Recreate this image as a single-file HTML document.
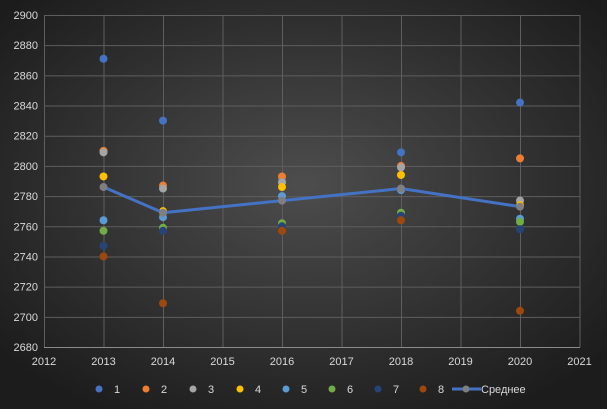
<!DOCTYPE html>
<html><head><style>body{margin:0}svg{display:block}</style></head><body>
<svg width="607" height="409" xmlns="http://www.w3.org/2000/svg" font-family="Liberation Sans, sans-serif">
<defs><radialGradient id="g" cx="50%" cy="45%" r="65%"><stop offset="0" stop-color="#4d4d4d"/><stop offset="1" stop-color="#1c1c1c"/></radialGradient></defs>
<rect width="607" height="409" fill="url(#g)"/>
<g stroke="#5e5e5e" stroke-width="1" id="grid"></g>
<g id="pts"></g>
<g fill="#d9d9d9" font-size="11" id="lbl"></g>
<script>
var ns="http://www.w3.org/2000/svg";
function X(y){return 44+(y-2012)*59.5}
function Y(v){return 347-(v-2680)*332/220}
function el(p,t,a,txt){var e=document.createElementNS(ns,t);for(var k in a)e.setAttribute(k,a[k]);if(txt!=null)e.textContent=txt;document.getElementById(p).appendChild(e);return e}
for(var v=2680;v<=2900;v+=20){el('grid','line',{x1:44,x2:580,y1:Y(v)+.5,y2:Y(v)+.5});el('lbl','text',{x:38,y:Y(v)+4,'text-anchor':'end'},v)}
for(var y=2012;y<=2021;y++){el('grid','line',{x1:X(y)+.5,x2:X(y)+.5,y1:15,y2:347});el('lbl','text',{x:X(y),y:365,'text-anchor':'middle'},y)}
el('grid','line',{x1:44,x2:580,y1:347.5,y2:347.5,stroke:'#8a8a8a'});
var cols=['#4472c4','#ed7d31','#a5a5a5','#ffc000','#5b9bd5','#70ad47','#264478','#9e480e'];
var yrs=[2013,2014,2016,2018,2020];
var d=[[2871,2810,2809,2793,2764,2757,2747,2740],[2830,2787,2785,2770,2766,2759,2757,2709],[2791,2793,2789,2786,2780,2762,2760,2757],[2809,2800,2799,2794,2784,2769,2767,2764],[2842,2805,2777,2774,2765,2763,2758,2704]];
var avg=[2786,2769,2777,2785,2773];
var pl=yrs.map(function(y,i){return X(y)+','+Y(avg[i])}).join(' ');
for(var s=0;s<8;s++)for(var i=0;i<5;i++)el('pts','circle',{cx:X(yrs[i]),cy:Y(d[i][s]),r:4,fill:cols[s]});
el('pts','polyline',{points:pl,fill:'none',stroke:'#4472c4','stroke-width':3});
for(var i=0;i<5;i++)el('pts','circle',{cx:X(yrs[i]),cy:Y(avg[i]),r:4,fill:'#7f7f7f'});
var lx=[99,146,193,240,286,332,378,423];
for(var s=0;s<8;s++){el('pts','circle',{cx:lx[s],cy:389,r:3.5,fill:cols[s]});el('lbl','text',{x:lx[s]+15,y:393},s+1)}
el('pts','line',{x1:452,x2:481,y1:389,y2:389,stroke:'#4472c4','stroke-width':3});
el('pts','circle',{cx:466,cy:389,r:3.5,fill:'#7f7f7f'});
el('lbl','text',{x:481,y:393},'Среднее');
</script>
</svg>
</body></html>
